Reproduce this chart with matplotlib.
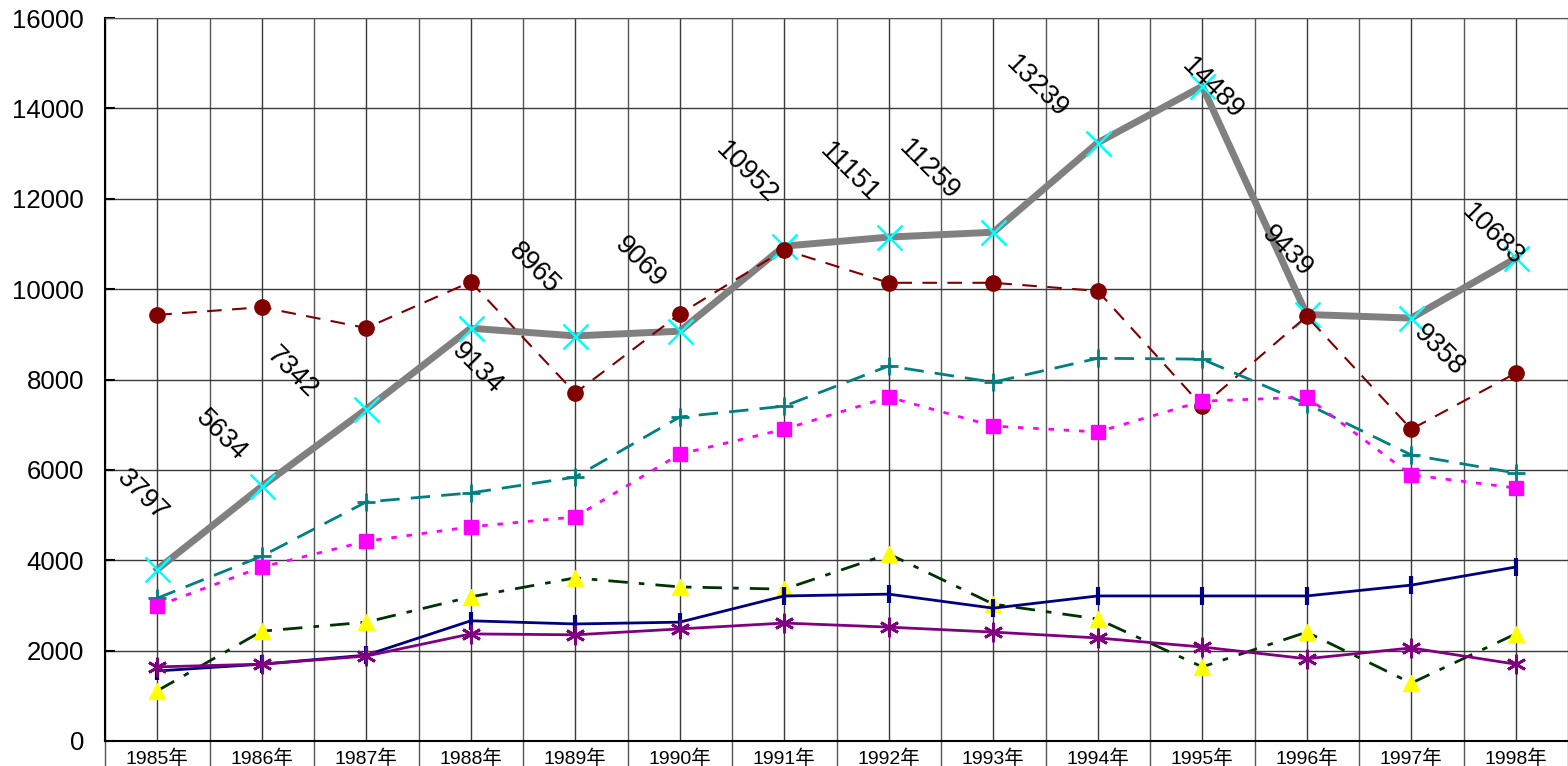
import matplotlib
matplotlib.use("Agg")
import matplotlib.pyplot as plt
from matplotlib.ticker import FixedLocator, MultipleLocator
import numpy as np

plt.rcParams['font.family'] = ['Liberation Sans', 'Noto Sans CJK SC', 'DejaVu Sans']

years = ['1985年', '1986年', '1987年', '1988年', '1989年', '1990年', '1991年',
         '1992年', '1993年', '1994年', '1995年', '1996年', '1997年', '1998年']

total = [3797, 5634, 7342, 9134, 8965, 9069, 10952, 11151, 11259, 13239, 14489, 9439, 9358, 10683]
series_red = [9430, 9600, 9140, 10160, 7700, 9450, 10870, 10140, 10140, 9960, 7410, 9400, 6900, 8140]
series_teal = [3160, 4090, 5290, 5490, 5840, 7170, 7410, 8300, 7940, 8470, 8450, 7460, 6330, 5930]
series_magenta = [2990, 3850, 4420, 4740, 4960, 6350, 6900, 7610, 6970, 6840, 7520, 7610, 5890, 5600]
series_yellow = [1110, 2430, 2630, 3190, 3610, 3410, 3360, 4140, 3030, 2700, 1640, 2410, 1280, 2370]
series_navy = [1550, 1700, 1900, 2660, 2590, 2630, 3210, 3250, 2940, 3210, 3210, 3210, 3450, 3850]
series_purple = [1640, 1700, 1880, 2370, 2350, 2480, 2610, 2520, 2410, 2280, 2080, 1820, 2060, 1700]

# label offsets (pixels) for the total-series value labels
label_offsets = [(-15, 74), (-40, 51), (-74, 37), (6, -40), (-41, 68), (-40, 69), (-38, 73),
                 (-39, 65), (-64, 62), (-61, 56), (10, -2), (-20, 63), (28, -32), (-23, 23)]

fig = plt.figure(figsize=(15.68, 7.66), dpi=100)
ax = fig.add_axes([105 / 1568, 1 - 741 / 766, 1 - 105 / 1568, (741 - 18) / 766])

x = np.arange(len(years))

ax.plot(x, total, color='#808080', lw=5, marker='x', ms=18, mec='#00FFFF', mew=1.8, zorder=3)
ax.plot(x, series_red, color='#800000', lw=1.5, ls=(0, (7, 5)), marker='o', ms=11,
        mfc='#800000', mec='#800000', zorder=4)
ax.plot(x, series_teal, color='#008080', lw=2, ls=(0, (7, 4)), marker='+', ms=13,
        mec='#008080', mew=2, zorder=4)
ax.plot(x, series_magenta, color='#FF00FF', lw=2, ls=(0, (2, 3.5)), marker='s', ms=10.5,
        mfc='#FF00FF', mec='#FF00FF', zorder=4)
ax.plot(x, series_yellow, color='#003300', lw=2, ls=(0, (7, 4, 2, 4)), marker='^', ms=12,
        mfc='#FFFF00', mec='#FFFF00', zorder=4)
ax.plot(x, series_navy, color='#000080', lw=2, marker='|', ms=13, mew=3, mec='#000080', zorder=4)
ax.plot(x, series_purple, color='#800080', lw=2, marker=(6, 2, 0), ms=14, mew=2,
        mec='#800080', zorder=4)

for xi, v, (dx, dy) in zip(x, total, label_offsets):
    ax.annotate(str(v), (xi, v), xytext=(dx, dy), textcoords='offset pixels',
                rotation=-45, rotation_mode='anchor', ha='center', va='center',
                fontsize=19.5, color='black', zorder=6)

ax.set_xlim(-0.5, len(years) - 0.5)
ax.set_ylim(0, 16000)
ax.yaxis.set_major_locator(MultipleLocator(2000))
ax.xaxis.set_major_locator(FixedLocator(x))
ax.xaxis.set_minor_locator(FixedLocator(np.arange(-0.5, len(years), 1.0)))
ax.set_xticklabels(years)

ax.grid(True, which='major', axis='both', color='#3a3a3a', lw=1.0, zorder=0)
ax.grid(True, which='minor', axis='x', color='#555555', lw=1.0, zorder=0)

ax.tick_params(axis='y', which='major', direction='in', length=7, width=1.5, labelsize=18.5, pad=15)
ax.tick_params(axis='x', which='major', length=0, labelsize=14, pad=6)
ax.tick_params(axis='x', which='minor', direction='out', length=20, width=1, color='#555555')

for side in ['left', 'bottom']:
    ax.spines[side].set_color('black')
    ax.spines[side].set_linewidth(1.5)
ax.spines['top'].set_color('#555555')
ax.spines['right'].set_visible(False)

fig.savefig('out.png', dpi=100)
